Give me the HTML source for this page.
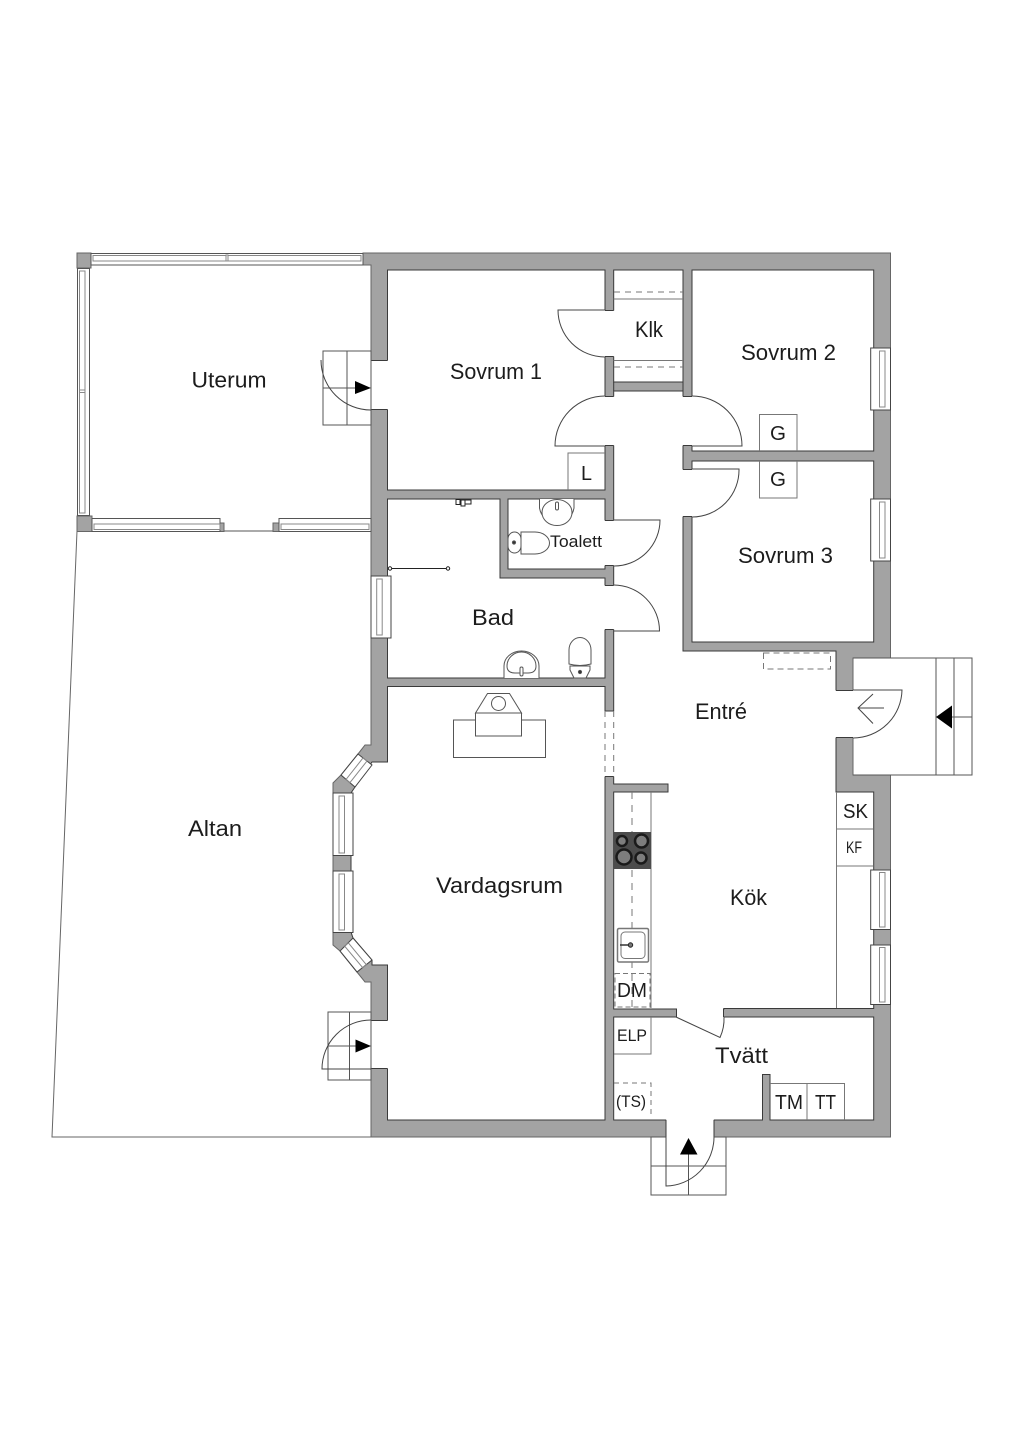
<!DOCTYPE html>
<html><head><meta charset="utf-8"><style>
html,body{margin:0;padding:0;background:#fff}
svg{display:block}
text{font-family:"Liberation Sans",sans-serif;fill:#1c1c1c;text-anchor:start}
</style></head><body>
<svg width="1024" height="1448" viewBox="0 0 1024 1448" xmlns="http://www.w3.org/2000/svg">
<rect width="1024" height="1448" fill="#fff"/>
<!-- altan -->
<path d="M77 531L52 1137H371" fill="none" stroke="#666" stroke-width="1"/>
<path d="M224 531H273" stroke="#555" stroke-width="1"/>
<!-- outer walls -->
<path d="M363 253H890.5V658H853V775H890.5V1137H371V982H365L340 951L333 945V783L341 775L358 754L365 745H371V265H363Z" fill="#a3a3a3" stroke="#666" stroke-width="1"/>
<!-- uterum corners -->
<g fill="#a3a3a3" stroke="#666" stroke-width="1">
<rect x="77" y="253" width="14" height="15"/>
<rect x="77" y="516" width="15" height="15.5"/>
<rect x="220" y="523" width="4" height="8.5"/>
<rect x="273" y="523" width="6" height="8.5"/>
</g>
<!-- rooms -->
<g fill="#fff" stroke="#3a3a3a" stroke-width="1">
<rect x="387.5" y="270" width="217.5" height="220"/>
<rect x="613.7" y="270" width="69.3" height="112"/>
<rect x="692" y="270" width="181.7" height="181"/>
<rect x="692" y="461" width="181.7" height="181"/>
<path d="M387.5 499H500V578H605V678H387.5Z"/>
<rect x="508" y="499" width="97" height="70"/>
<path d="M387.5 686.5H605V1120H387.5V965H372V960L353 938L351 932V793L355 787L372 762H387.5Z"/>
<path d="M613.7 391H683V651H836V792H873.7V1008.5H724V1009H613.7V792H668V784H613.7Z"/>
<path d="M613.7 1017H873.7V1120H770V1074.5H762.5V1120H613.7Z"/>
</g>
<!-- openings -->
<g fill="#fff" stroke="none">
<rect x="369" y="360.5" width="20" height="49"/>
<rect x="369" y="1020.5" width="20" height="48"/>
<rect x="604" y="310.5" width="11" height="46"/>
<rect x="604" y="396.5" width="11" height="49"/>
<rect x="604" y="520.5" width="11" height="45"/>
<rect x="604" y="585.5" width="11" height="44"/>
<rect x="604" y="711" width="11" height="65.5"/>
<rect x="682" y="396.5" width="11" height="49"/>
<rect x="682" y="469.5" width="11" height="47"/>
<rect x="835" y="690.5" width="19" height="47"/>
<rect x="676.5" y="1007.5" width="47" height="11"/>
<rect x="666.2" y="1119" width="47.6" height="19"/>
<rect x="853.5" y="659" width="118" height="115.5"/>
</g>
<!-- jambs -->
<path d="M371 360.5H387.5M371 409.5H387.5M371 1020.5H387.5M371 1068.5H387.5M605 310.5H613.7M605 356.5H613.7M605 396.5H613.7M605 445.5H613.7M605 520.5H613.7M605 565.5H613.7M605 585.5H613.7M605 629.5H613.7M605 711H613.7M605 776.5H613.7M683 396.5H692M683 445.5H692M683 469.5H692M683 516.5H692M836 690.5H853M836 737.5H853M676.5 1008.5V1017M723.5 1008.5V1017M666 1120V1137M714 1120V1137M613.7 382V391M683 382V391" fill="none" stroke="#3a3a3a" stroke-width="1"/>
<path d="M605 711V777M613.7 711V777" stroke="#777" stroke-width="1" stroke-dasharray="6 5" fill="none"/>
<!-- uterum windows -->
<g fill="#fff" stroke="#555" stroke-width="1">
<rect x="91" y="253.5" width="272" height="11.5"/>
<rect x="93" y="255.5" width="268" height="5.5" stroke="#888"/>
<rect x="226" y="255" width="2" height="6" stroke="#888"/>
<rect x="77.5" y="268.5" width="12" height="247"/>
<rect x="79.5" y="271" width="5.5" height="242" stroke="#888"/>
<rect x="79.5" y="390" width="5.5" height="2.5" stroke="#888"/>
<rect x="92" y="518.5" width="128" height="13"/>
<rect x="94" y="524" width="126" height="5.5" stroke="#888"/>
<rect x="279" y="518.5" width="92" height="13"/>
<rect x="281" y="524" width="88" height="5.5" stroke="#888"/>
</g>
<!-- other windows -->
<g fill="#fff" stroke="#444" stroke-width="1">
<rect x="870.7" y="348" width="19.8" height="62"/>
<rect x="870.7" y="499" width="19.8" height="62"/>
<rect x="870.7" y="870" width="19.8" height="59.5"/>
<rect x="870.7" y="945" width="19.8" height="59.5"/>
<rect x="371" y="576" width="20" height="62"/>
<rect x="333" y="793" width="20" height="62.5"/>
<rect x="333" y="871" width="20" height="61.5"/>
<path d="M358 754L372 765L355 787L341 775Z"/>
<path d="M353 938L372 960L357 972L340 951Z"/>
</g>
<g fill="none" stroke="#888" stroke-width="1">
<rect x="879.5" y="351" width="5.5" height="56"/>
<rect x="879.5" y="502" width="5.5" height="56"/>
<rect x="879.5" y="872.5" width="5.5" height="54.5"/>
<rect x="879.5" y="947.5" width="5.5" height="54.5"/>
<rect x="376.7" y="579" width="5.5" height="56"/>
<rect x="339" y="796" width="5.5" height="57"/>
<rect x="339" y="874" width="5.5" height="56"/>
<path d="M367 761L363 758L346 779.5L350 782.6Z"/>
<path d="M348.5 943L344.5 946L362.5 967.5L366.5 964.9Z"/>
</g>
<!-- steps -->
<g fill="none" stroke="#555" stroke-width="1">
<rect x="323" y="351" width="48" height="74"/>
<path d="M347 351V425M323 388H356"/>
<rect x="328" y="1012" width="43" height="68"/>
<path d="M349.5 1012V1080M328 1046H356"/>
<path d="M853 658H972V775H853M936 658V775M954 658V775M952 717H972"/>
<path d="M666 1137H651V1195H726V1137H714M651 1166H726M688.5 1154V1195"/>
</g>
<g fill="#000">
<path d="M355 381V394L371 388Z"/>
<path d="M355.5 1039.5V1052.5L371 1046Z"/>
<path d="M936 717L952 705.5V728.5Z"/>
<path d="M688.5 1138L680 1154.5H697.5Z"/>
</g>
<!-- doors -->
<g fill="none" stroke="#444" stroke-width="1">
<path d="M371 410A50 50 0 0 1 321 360"/>
<path d="M371 1020A49 49 0 0 0 322 1069H371"/>
<path d="M605 310H558A47 47 0 0 0 605 357"/>
<path d="M605 396A50 50 0 0 0 555 446H605"/>
<path d="M692 396A50 50 0 0 1 742 446H692"/>
<path d="M692 469H739A47 47 0 0 1 692 517"/>
<path d="M613.7 520H660A46 46 0 0 1 613.7 566"/>
<path d="M613.7 585A46 46 0 0 1 659.5 631H613.7"/>
<path d="M853 690H902A49 49 0 0 1 853 738"/>
<path d="M884 708H858M873 694L858 708L873 723.5"/>
<path d="M666 1137V1186A49 49 0 0 0 714 1137"/>
<path d="M676 1017L720 1037.5A44 44 0 0 0 724 1017"/>
</g>
<!-- closets & fittings -->
<g fill="none" stroke="#777" stroke-width="1">
<path d="M613.7 299H683M613.7 360.5H683"/>
<path d="M614 292H683M614 367H683" stroke-dasharray="6 5"/>
<path d="M568 490V453H605"/>
<path d="M759.5 451V414.5H797V451M759.5 461V498H797V461"/>
<rect x="763.5" y="653" width="67" height="16" stroke-dasharray="6 4"/>
<path d="M836.5 792V1008M836.5 829H873.7M836.5 866H873.7"/>
<path d="M651 792V1008"/>
<path d="M632 792V1008" stroke-dasharray="7 6"/>
<rect x="615" y="973.5" width="35" height="33.5" stroke-dasharray="5 3"/>
<path d="M614 1054H651V1017"/>
<path d="M614 1083H651V1116" stroke-dasharray="5 4"/>
<path d="M770 1083.5H844.5V1120M807 1083.5V1120"/>
</g>
<!-- hob -->
<rect x="614" y="832" width="37" height="37" fill="#4c4c4c"/>
<g stroke="#1a1a1a" stroke-width="2.5" fill="#7d7d7d">
<circle cx="622" cy="841" r="5"/>
<circle cx="641.5" cy="841" r="6.5"/>
<circle cx="624" cy="857" r="7.5"/>
<circle cx="641" cy="858" r="5.5"/>
</g>
<!-- sink -->
<rect x="617.5" y="928.5" width="31" height="33.5" rx="1.5" fill="#fff" stroke="#777" stroke-width="1.5"/>
<rect x="621" y="932" width="24" height="26.5" rx="4" fill="#fff" stroke="#777" stroke-width="1"/>
<path d="M620 945H630" stroke="#333" stroke-width="1.5"/>
<circle cx="630.5" cy="945" r="2.2" fill="#777" stroke="#222" stroke-width="1"/>
<!-- fireplace -->
<g fill="#fff" stroke="#555" stroke-width="1">
<rect x="453.5" y="720" width="92" height="37.5"/>
<rect x="475.5" y="713" width="46" height="23"/>
<path d="M475.5 713L487.5 693.5H509.5L521.5 713Z"/>
<circle cx="498.5" cy="703.5" r="7"/>
</g>
<!-- toilet room fixtures -->
<g fill="#fff" stroke="#555" stroke-width="1">
<path d="M539.5 499V508A17.5 18 0 0 0 574 508V499"/>
<ellipse cx="557" cy="512.5" rx="15" ry="13"/>
<rect x="555.5" y="502" width="3" height="8" rx="1.5"/>
<rect x="508" y="532" width="13" height="21" rx="7"/>
<path d="M521 532H535A14.5 11 0 0 1 535 554H521Z"/>
<circle cx="514" cy="542.5" r="1.6" fill="#333"/>
<path d="M504 678V666A17.5 15 0 0 1 539 666V678"/>
<path d="M507 666A14.5 14 0 0 1 536 666Q536 673 528 673H515Q507 673 507 666Z"/>
<rect x="520" y="667" width="3" height="9" rx="1.5"/>
<path d="M569 664V650A11 12.5 0 0 1 591 650V664Q580 667 569 664Z"/>
<path d="M570 666H590V670L586 678H574L570 670Z"/>
<circle cx="580" cy="672" r="1.6" fill="#333"/>
</g>
<!-- shower -->
<path d="M390 568.5H448" stroke="#222" stroke-width="1"/>
<circle cx="390" cy="568.5" r="1.7" fill="#fff" stroke="#222" stroke-width="1"/>
<circle cx="448" cy="568.5" r="1.7" fill="#fff" stroke="#222" stroke-width="1"/>
<g fill="#fff" stroke="#222" stroke-width="1"><rect x="456" y="499.5" width="4" height="5"/><rect x="461" y="500" width="4" height="6"/><rect x="465" y="500" width="6" height="4"/></g>
<!-- labels -->
<g font-size="22">
<text x="191.5" y="387.5" textLength="75" lengthAdjust="spacingAndGlyphs">Uterum</text>
<text x="450" y="379" textLength="92" lengthAdjust="spacingAndGlyphs">Sovrum 1</text>
<text x="635" y="337" textLength="28" lengthAdjust="spacingAndGlyphs">Klk</text>
<text x="741" y="360" textLength="95" lengthAdjust="spacingAndGlyphs">Sovrum 2</text>
<text x="738" y="563" textLength="95" lengthAdjust="spacingAndGlyphs">Sovrum 3</text>
<text x="472" y="625" textLength="42" lengthAdjust="spacingAndGlyphs">Bad</text>
<text x="695" y="719" textLength="52" lengthAdjust="spacingAndGlyphs">Entré</text>
<text x="188" y="836" textLength="54" lengthAdjust="spacingAndGlyphs">Altan</text>
<text x="436" y="893" textLength="127" lengthAdjust="spacingAndGlyphs">Vardagsrum</text>
<text x="730" y="905" textLength="37" lengthAdjust="spacingAndGlyphs">Kök</text>
<text x="715" y="1063" textLength="53" lengthAdjust="spacingAndGlyphs">Tvätt</text>
</g>
<g font-size="20">
<text x="843" y="818" textLength="25" lengthAdjust="spacingAndGlyphs">SK</text>
<text x="617" y="997" textLength="30" lengthAdjust="spacingAndGlyphs">DM</text>
<text x="775" y="1109" textLength="28" lengthAdjust="spacingAndGlyphs">TM</text>
<text x="815" y="1109" textLength="21" lengthAdjust="spacingAndGlyphs">TT</text>
<text x="581" y="480" textLength="11" lengthAdjust="spacingAndGlyphs">L</text>
<text x="770" y="440" textLength="16" lengthAdjust="spacingAndGlyphs">G</text>
<text x="770" y="486" textLength="16" lengthAdjust="spacingAndGlyphs">G</text>
</g>
<g font-size="17">
<text x="550" y="547" textLength="52" lengthAdjust="spacingAndGlyphs">Toalett</text>
<text x="846" y="853" textLength="16" lengthAdjust="spacingAndGlyphs">KF</text>
<text x="617" y="1041" textLength="30" lengthAdjust="spacingAndGlyphs">ELP</text>
<text x="616" y="1107" textLength="30" lengthAdjust="spacingAndGlyphs">(TS)</text>
</g>
</svg>
</body></html>
